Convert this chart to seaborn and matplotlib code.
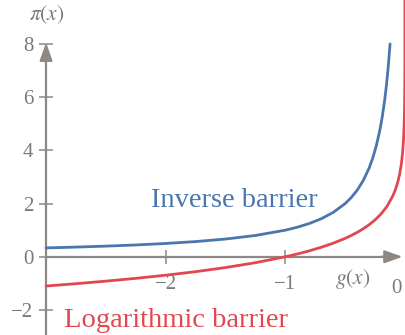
import matplotlib
matplotlib.use("Agg")
import matplotlib.pyplot as plt
import seaborn as sns
import pandas as pd

# Values
g_inverse = [-3.0, -2.75, -2.5, -2.25, -2.0, -1.75, -1.5, -1.25, -1.0, -0.9, -0.8, -0.7,
             -0.6, -0.5, -0.45, -0.4, -0.35, -0.3, -0.27, -0.24, -0.21, -0.19, -0.17,
             -0.155, -0.14, -0.125]
inverse_barrier = [0.333, 0.364, 0.4, 0.444, 0.5, 0.571, 0.667, 0.8, 1.0, 1.111, 1.25, 1.429,
                   1.667, 2.0, 2.222, 2.5, 2.857, 3.333, 3.704, 4.167, 4.762, 5.263, 5.882,
                   6.452, 7.143, 8.0]
g_log = [-3.0, -2.75, -2.5, -2.25, -2.0, -1.75, -1.5, -1.25, -1.0, -0.9, -0.8, -0.7, -0.6,
         -0.5, -0.45, -0.4, -0.35, -0.3, -0.25, -0.2, -0.15, -0.1, -0.08, -0.06, -0.045,
         -0.03, -0.02, -0.012, -0.007, -0.004, -0.002, -0.001, -0.0005, -0.0002, -0.0001,
         -0.00005]
log_barrier = [-1.099, -1.012, -0.916, -0.811, -0.693, -0.560, -0.405, -0.223, 0.0, 0.105,
               0.223, 0.357, 0.511, 0.693, 0.799, 0.916, 1.050, 1.204, 1.386, 1.609, 1.897,
               2.303, 2.526, 2.813, 3.101, 3.507, 3.912, 4.423, 4.962, 5.521, 6.215, 6.908,
               7.601, 8.517, 9.210, 9.903]
y_ticks = [-2, 0, 2, 4, 6, 8]
x_ticks = [-2, -1]
x_tick_labels = ["\u22122", "\u22121"]
y_tick_labels = ["\u22122", "0", "2", "4", "6", "8"]

BLUE = "#4a75ad"
RED = "#e2474f"
GREY = "#8e8783"
TXT = "#7f7875"

sns.set_theme(style="white")
plt.rcParams["font.family"] = ["Liberation Serif", "DejaVu Serif"]
plt.rcParams["mathtext.fontset"] = "stix"

fig = plt.figure(figsize=(4.05, 3.35), dpi=100)
ax = fig.add_axes([0, 0, 1, 1])
ax.set_facecolor("none")

df_inv = pd.DataFrame({"g": g_inverse, "pi": inverse_barrier})
df_log = pd.DataFrame({"g": g_log, "pi": log_barrier})
sns.lineplot(data=df_inv, x="g", y="pi", ax=ax, color=BLUE, lw=2.0, sort=False)
sns.lineplot(data=df_log, x="g", y="pi", ax=ax, color=RED, lw=2.0, sort=False)
ax.set_xlabel("")
ax.set_ylabel("")

ax.set_xlim(-3.385, 0.0)
ax.set_ylim(-2.94, 9.65)

for s in ["top", "right"]:
    ax.spines[s].set_visible(False)
ax.spines["left"].set_position(("data", -3.0))
ax.spines["bottom"].set_position(("data", 0.0))
ax.spines["left"].set_bounds(-2.94, 7.6)
ax.spines["bottom"].set_bounds(-3.0, -0.12)
for s in ["left", "bottom"]:
    ax.spines[s].set_color(GREY)
    ax.spines[s].set_linewidth(1.6)
    ax.spines[s].set_zorder(1)

ax.set_yticks(y_ticks)
ax.set_yticklabels(y_tick_labels)
ax.set_xticks(x_ticks)
ax.set_xticklabels(x_tick_labels)
ax.tick_params(axis="both", direction="inout", length=10, width=1.1, colors=GREY,
               labelcolor=TXT, labelsize=15, left=True, bottom=True)
ax.tick_params(axis="y", pad=4)
ax.tick_params(axis="x", pad=8)

# arrow heads
ax.annotate("", xy=(-3.0, 8.05), xytext=(-3.0, 7.4),
            arrowprops=dict(arrowstyle="-|>,head_length=0.9,head_width=0.32", color=GREY,
                            lw=1.6, shrinkA=0, shrinkB=0))
ax.annotate("", xy=(-0.02, 0.0), xytext=(-0.2, 0.0),
            arrowprops=dict(arrowstyle="-|>,head_length=0.9,head_width=0.32", color=GREY,
                            lw=1.6, shrinkA=0, shrinkB=0))

ax.text(-0.075, -1.2, "0", ha="center", va="center", fontsize=15, color=TXT)
ax.text(-0.44, -0.85, r"$g(x)$", ha="center", va="center", fontsize=15.5, color=TXT)
ax.text(-2.99, 9.1, r"$\pi(x)$", ha="center", va="center", fontsize=15.5, color=TXT)

ax.text(-2.119, 1.87, "Inverse barrier", ha="left", va="baseline", fontsize=20.5, color=BLUE)
ax.text(-2.846, -2.64, "Logarithmic barrier", ha="left", va="baseline", fontsize=20.5, color=RED)

fig.savefig("out.png", dpi=100)
